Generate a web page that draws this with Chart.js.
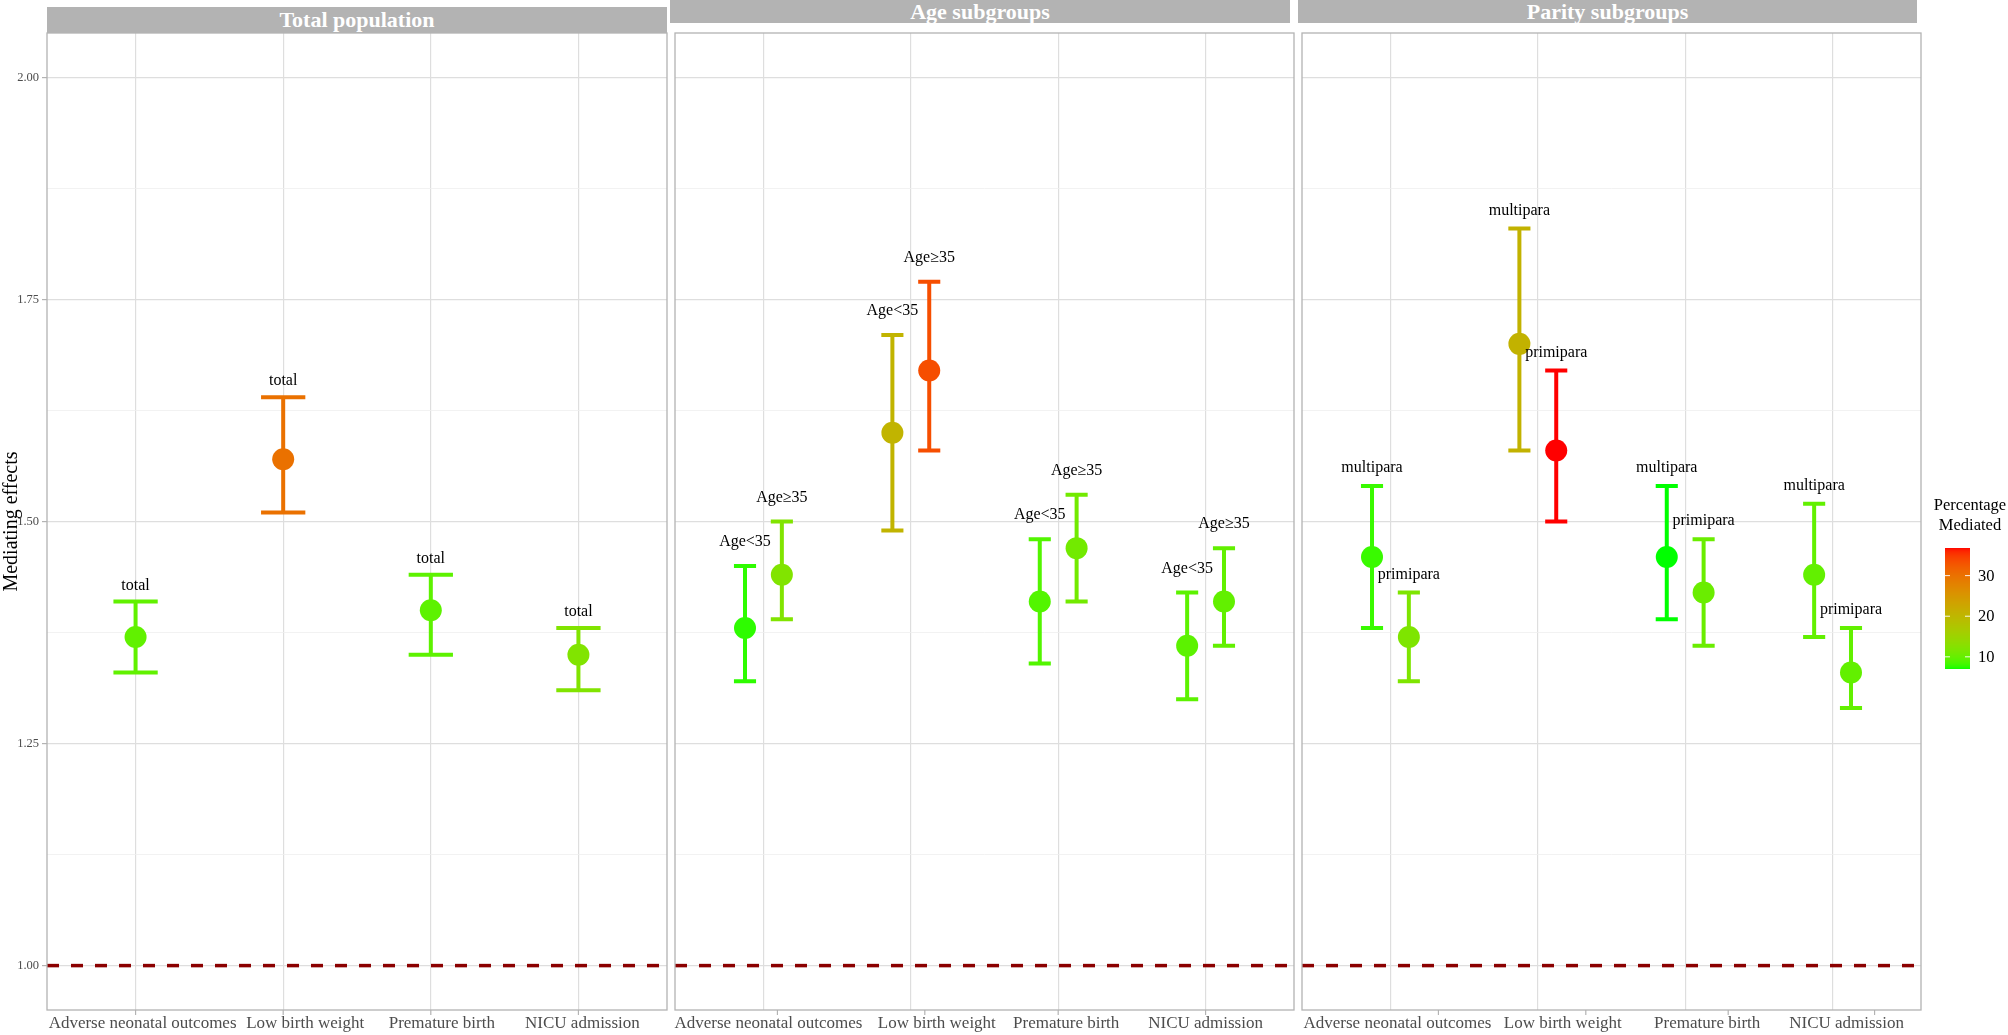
<!DOCTYPE html>
<html>
<head>
<meta charset="utf-8">
<script src="https://cdn.jsdelivr.net/npm/chart.js@4.4.1/dist/chart.umd.min.js"></script>
<style>
  body { margin: 0; background: #fff; }
  #wrap { position: relative; width: 2008px; height: 1035px; overflow: hidden; font-family: "Liberation Serif", serif; }
  #wrap canvas { position: absolute; }
  .strip { position: absolute; background: #B3B3B3; color: #fff; font-weight: bold; font-size: 22px; text-align: center; }
  .leg { position: absolute; color: #000; font-size: 16.5px; }
</style>
</head>
<body>
<div id="wrap"></div>
<script>
// categories and panels
const outcomes = ['Adverse neonatal outcomes', 'Low birth weight', 'Premature birth', 'NICU admission'];
const panelTitles = ['Total population', 'Age subgroups', 'Parity subgroups'];

// total population
const totalName = 'total';
const totalEst  = [1.37, 1.57, 1.40, 1.35];
const totalLow  = [1.33, 1.51, 1.35, 1.31];
const totalHigh = [1.41, 1.64, 1.44, 1.38];
const totalPct  = [9.7, 30.0, 9.5, 12.1];

// age subgroups
const ageNames = ['Age<35', 'Age\u226535'];
const youngEst  = [1.38, 1.60, 1.41, 1.36];
const youngLow  = [1.32, 1.49, 1.34, 1.30];
const youngHigh = [1.45, 1.71, 1.48, 1.42];
const youngPct  = [7.6, 20.4, 8.9, 9.4];
const olderEst  = [1.44, 1.67, 1.47, 1.41];
const olderLow  = [1.39, 1.58, 1.41, 1.36];
const olderHigh = [1.50, 1.77, 1.53, 1.47];
const olderPct  = [12.1, 33.5, 10.9, 9.8];

// parity subgroups
const parityNames = ['multipara', 'primipara'];
const multiEst  = [1.46, 1.70, 1.46, 1.44];
const multiLow  = [1.38, 1.58, 1.39, 1.37];
const multiHigh = [1.54, 1.83, 1.54, 1.52];
const multiPct  = [7.9, 20.7, 7.0, 9.8];
const primiEst  = [1.37, 1.58, 1.42, 1.33];
const primiLow  = [1.32, 1.50, 1.36, 1.29];
const primiHigh = [1.42, 1.67, 1.48, 1.38];
const primiPct  = [11.8, 36.8, 10.3, 9.8];

const yTicks = [1.00, 1.25, 1.50, 1.75, 2.00];
const yMin = 0.95, yMax = 2.05;
const refLine = 1;
const legendTicks = [10, 20, 30];
const legendTitle = ['Percentage', 'Mediated'];
const yTitle = 'Mediating effects';

const panels = [
    [{ name: totalName, est: totalEst, low: totalLow, high: totalHigh, pct: totalPct }],
    [{ name: ageNames[0], est: youngEst, low: youngLow, high: youngHigh, pct: youngPct },
     { name: ageNames[1], est: olderEst, low: olderLow, high: olderHigh, pct: olderPct }],
    [{ name: parityNames[0], est: multiEst, low: multiLow, high: multiHigh, pct: multiPct },
     { name: parityNames[1], est: primiEst, low: primiLow, high: primiHigh, pct: primiPct }]
];

// layout (pixels)
const panelLayout = [
    { left: 0,    width: 668, padLeft: 0,  yWidth: 47, strip: [47, 7, 620, 26],   capHalf: 0.15,  labelGap: 16,
      labelShift: [7, 22, 11, 4],   tickShift: [0, 0, 0, 0] },
    { left: 660,  width: 635, padLeft: 15, yWidth: 0,  strip: [670, 0, 620, 23],  capHalf: 0.075, labelGap: 24,
      labelShift: [5, 26, 8, 0],    tickShift: [14, 14, 0, 0] },
    { left: 1288, width: 634, padLeft: 14, yWidth: 0,  strip: [1298, 0, 619, 23], capHalf: 0.075, labelGap: 18,
      labelShift: [7, 25, 22, 14],  tickShift: [48, 48, 43, 42] }
];
const dodgeWidth = 0.25;
const FONT = "'Liberation Serif', serif";

// colour scale: green -> red, interpolated in Lab like ggplot
const allPct = [].concat(totalPct, youngPct, olderPct, multiPct, primiPct);
const pctMin = Math.min(...allPct), pctMax = Math.max(...allPct);

function toLab(r, g, b) {
    const lin = c => { c /= 255; return c <= 0.04045 ? c / 12.92 : Math.pow((c + 0.055) / 1.055, 2.4); };
    const R = lin(r), G = lin(g), B = lin(b);
    const X = (0.4124 * R + 0.3576 * G + 0.1805 * B) / 0.95047;
    const Y = 0.2126 * R + 0.7152 * G + 0.0722 * B;
    const Z = (0.0193 * R + 0.1192 * G + 0.9505 * B) / 1.08883;
    const f = t => t > 0.008856 ? Math.cbrt(t) : 7.787 * t + 16 / 116;
    const fx = f(X), fy = f(Y), fz = f(Z);
    return [116 * fy - 16, 500 * (fx - fy), 200 * (fy - fz)];
}
function fromLab(L, a, b) {
    const fy = (L + 16) / 116, fx = fy + a / 500, fz = fy - b / 200;
    const finv = t => t * t * t > 0.008856 ? t * t * t : (t - 16 / 116) / 7.787;
    const X = finv(fx) * 0.95047, Y = finv(fy), Z = finv(fz) * 1.08883;
    let R = 3.2406 * X - 1.5372 * Y - 0.4986 * Z;
    let G = -0.9689 * X + 1.8758 * Y + 0.0415 * Z;
    let B = 0.0557 * X - 0.2040 * Y + 1.0570 * Z;
    const gam = c => {
        c = Math.min(1, Math.max(0, c));
        c = c <= 0.0031308 ? 12.92 * c : 1.055 * Math.pow(c, 1 / 2.4) - 0.055;
        return Math.round(c * 255);
    };
    return 'rgb(' + gam(R) + ',' + gam(G) + ',' + gam(B) + ')';
}
const labLow = toLab(0, 255, 0), labHigh = toLab(255, 0, 0);
function pctColor(p) {
    const t = Math.min(1, Math.max(0, (p - pctMin) / (pctMax - pctMin)));
    return fromLab(labLow[0] + t * (labHigh[0] - labLow[0]),
                   labLow[1] + t * (labHigh[1] - labLow[1]),
                   labLow[2] + t * (labHigh[2] - labLow[2]));
}

const isMajor = v => yTicks.some(t => Math.abs(t - v) < 1e-6);
const yGridValues = [];
yTicks.forEach((t, i) => {
    yGridValues.push(t);
    if (i < yTicks.length - 1) yGridValues.push((t + yTicks[i + 1]) / 2);
});

// plugins
const refLinePlugin = {
    id: 'refLine',
    beforeDatasetsDraw(chart) {
        const { ctx, chartArea, scales: { y } } = chart;
        const py = y.getPixelForValue(refLine);
        ctx.save();
        ctx.strokeStyle = '#8B0000';
        ctx.lineWidth = 3.5;
        ctx.setLineDash([12, 12]);
        ctx.beginPath();
        ctx.moveTo(chartArea.left, py);
        ctx.lineTo(chartArea.right, py);
        ctx.stroke();
        ctx.restore();
    }
};

const errorBarPlugin = {
    id: 'errorBars',
    beforeDatasetsDraw(chart, args, opts) {
        const { ctx, scales: { x, y } } = chart;
        ctx.save();
        ctx.lineWidth = 4;
        chart.data.datasets.forEach(ds => {
            ds.data.forEach(d => {
                const px = x.getPixelForValue(d.x);
                const x0 = x.getPixelForValue(d.x - opts.capHalf);
                const x1 = x.getPixelForValue(d.x + opts.capHalf);
                const yl = y.getPixelForValue(d.lo), yh = y.getPixelForValue(d.hi);
                ctx.strokeStyle = pctColor(d.pct);
                ctx.beginPath();
                ctx.moveTo(px, yl); ctx.lineTo(px, yh);
                ctx.moveTo(x0, yl); ctx.lineTo(x1, yl);
                ctx.moveTo(x0, yh); ctx.lineTo(x1, yh);
                ctx.stroke();
            });
        });
        ctx.restore();
    }
};

const pointLabelPlugin = {
    id: 'pointLabels',
    afterDatasetsDraw(chart, args, opts) {
        const { ctx, scales: { x, y } } = chart;
        ctx.save();
        ctx.font = '16px ' + FONT;
        ctx.fillStyle = '#000';
        ctx.textAlign = 'center';
        ctx.textBaseline = 'middle';
        chart.data.datasets.forEach(ds => {
            ds.data.forEach(d => {
                ctx.fillText(d.text, x.getPixelForValue(d.x), y.getPixelForValue(d.hi) - opts.gap);
            });
        });
        ctx.restore();
    }
};

// category labels and tick marks under each panel (ggplot placed them slightly off the grid)
const xLabelPlugin = {
    id: 'xLabels',
    afterDraw(chart, args, opts) {
        const { ctx, chartArea: a, scales: { x } } = chart;
        ctx.save();
        ctx.font = '17px ' + FONT;
        ctx.fillStyle = '#4D4D4D';
        ctx.strokeStyle = '#B3B3B3';
        ctx.lineWidth = 1.2;
        ctx.textAlign = 'center';
        ctx.textBaseline = 'alphabetic';
        outcomes.forEach((name, i) => {
            const px = x.getPixelForValue(i + 1);
            ctx.beginPath();
            ctx.moveTo(px + opts.tickShift[i], a.bottom);
            ctx.lineTo(px + opts.tickShift[i], a.bottom + 5);
            ctx.stroke();
            ctx.fillText(name, px + opts.labelShift[i], a.bottom + 18);
        });
        ctx.restore();
    }
};

const borderPlugin = {
    id: 'panelBorder',
    afterDraw(chart) {
        const { ctx, chartArea: a } = chart;
        ctx.save();
        ctx.strokeStyle = '#B3B3B3';
        ctx.lineWidth = 1.3;
        ctx.strokeRect(a.left, a.top, a.right - a.left, a.bottom - a.top);
        ctx.restore();
    }
};

const wrap = document.getElementById('wrap');

function buildPanel(groups, idx) {
    const lay = panelLayout[idx];

    const strip = document.createElement('div');
    strip.className = 'strip';
    strip.style.left = lay.strip[0] + 'px';
    strip.style.top = lay.strip[1] + 'px';
    strip.style.width = lay.strip[2] + 'px';
    strip.style.height = lay.strip[3] + 'px';
    strip.style.lineHeight = lay.strip[3] + 'px';
    strip.textContent = panelTitles[idx];
    wrap.appendChild(strip);

    const canvas = document.createElement('canvas');
    canvas.width = lay.width;
    canvas.height = 1007;
    canvas.style.left = lay.left + 'px';
    canvas.style.top = '28px';
    wrap.appendChild(canvas);

    const n = groups.length;
    const datasets = groups.map((g, gi) => {
        const dodge = (gi - (n - 1) / 2) * dodgeWidth;
        const colors = g.pct.map(pctColor);
        return {
            label: g.name,
            data: outcomes.map((o, i) => ({ x: i + 1 + dodge, y: g.est[i], lo: g.low[i], hi: g.high[i], pct: g.pct[i], text: g.name })),
            pointRadius: 11,
            pointHoverRadius: 11,
            pointBorderWidth: 0,
            pointBackgroundColor: colors,
            pointBorderColor: colors
        };
    });

    const showY = idx === 0;
    return new Chart(canvas.getContext('2d'), {
        type: 'scatter',
        data: { datasets },
        plugins: [refLinePlugin, errorBarPlugin, pointLabelPlugin, xLabelPlugin, borderPlugin],
        options: {
            responsive: false,
            animation: false,
            events: [],
            layout: { autoPadding: false, padding: { left: lay.padLeft, right: 1, top: 5, bottom: 0 } },
            plugins: {
                legend: { display: false },
                tooltip: { enabled: false },
                errorBars: { capHalf: lay.capHalf },
                pointLabels: { gap: lay.labelGap },
                xLabels: { labelShift: lay.labelShift, tickShift: lay.tickShift }
            },
            scales: {
                x: {
                    type: 'linear',
                    min: 0.4,
                    max: 4.6,
                    afterBuildTicks: s => { s.ticks = outcomes.map((o, i) => ({ value: i + 1 })); },
                    afterFit: s => { s.height = 25; s.paddingLeft = 0; s.paddingRight = 0; },
                    border: { display: false },
                    grid: { color: '#DEDEDE', lineWidth: 1.2, drawTicks: false },
                    ticks: { display: false }
                },
                y: {
                    min: yMin,
                    max: yMax,
                    afterBuildTicks: s => { s.ticks = yGridValues.map(v => ({ value: v })); },
                    afterFit: s => { s.width = lay.yWidth; s.paddingTop = 0; s.paddingBottom = 0; },
                    border: { display: false },
                    title: { display: showY, text: yTitle, color: '#000', font: { family: FONT, size: 20 }, padding: { top: 0, bottom: 0 } },
                    grid: {
                        color: c => (c.tick && !isMajor(c.tick.value)) ? '#EFEFEF' : '#DEDEDE',
                        lineWidth: c => (c.tick && !isMajor(c.tick.value)) ? 0.8 : 1.2,
                        drawTicks: showY,
                        tickLength: 5,
                        tickColor: c => (c.tick && !isMajor(c.tick.value)) ? 'rgba(0,0,0,0)' : '#B3B3B3'
                    },
                    ticks: {
                        display: showY, autoSkip: false, padding: 3,
                        color: '#4D4D4D', font: { family: FONT, size: 12.5 },
                        callback: v => isMajor(v) ? v.toFixed(2) : ''
                    }
                }
            }
        }
    });
}

panels.forEach((groups, idx) => buildPanel(groups, idx));

// colour bar legend
const barLeft = 1945, barTop = 548, barW = 25, barH = 121;
const title = document.createElement('div');
title.className = 'leg';
title.style.left = '1920px';
title.style.top = '495px';
title.style.width = '100px';
title.style.textAlign = 'center';
title.style.lineHeight = '20px';
title.innerHTML = legendTitle.join('<br>');
wrap.appendChild(title);

const bar = document.createElement('canvas');
bar.width = barW;
bar.height = barH;
bar.style.left = barLeft + 'px';
bar.style.top = barTop + 'px';
wrap.appendChild(bar);
const bctx = bar.getContext('2d');
for (let r = 0; r < barH; r++) {
    bctx.fillStyle = pctColor(pctMax - (r + 0.5) / barH * (pctMax - pctMin));
    bctx.fillRect(0, r, barW, 1);
}
legendTicks.forEach(v => {
    const yy = (pctMax - v) / (pctMax - pctMin) * barH;
    bctx.fillStyle = 'rgba(255,255,255,0.9)';
    bctx.fillRect(0, yy - 0.5, 5, 1);
    bctx.fillRect(barW - 5, yy - 0.5, 5, 1);
    const lab = document.createElement('div');
    lab.className = 'leg';
    lab.style.left = (barLeft + barW + 8) + 'px';
    lab.style.top = (barTop + yy - 10) + 'px';
    lab.style.lineHeight = '20px';
    lab.textContent = v;
    wrap.appendChild(lab);
});
</script>
</body>
</html>
